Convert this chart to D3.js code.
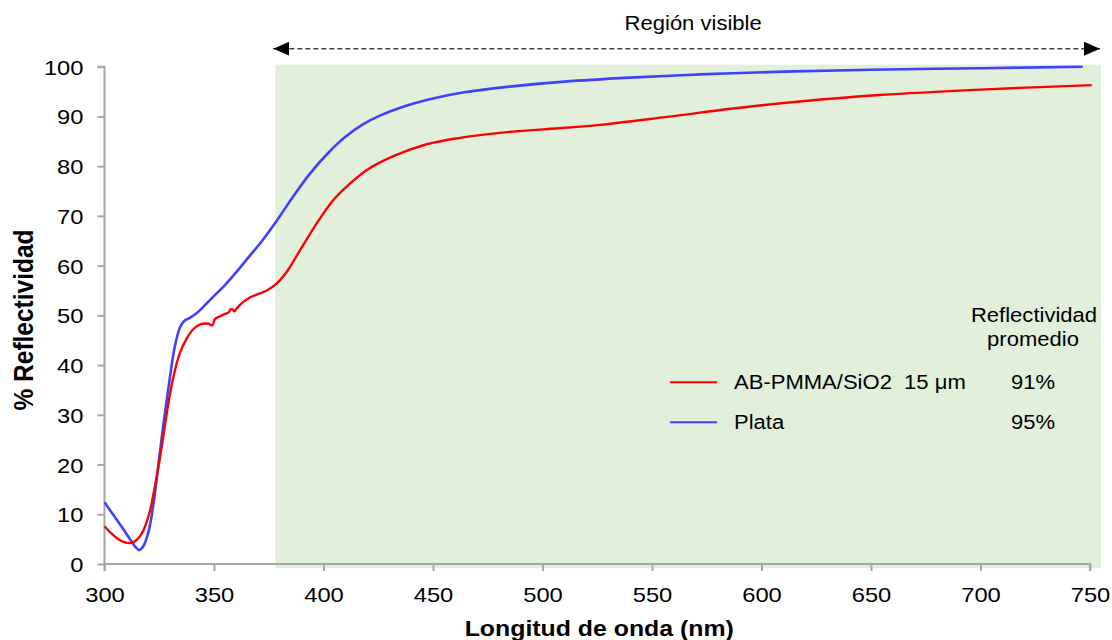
<!DOCTYPE html>
<html><head><meta charset="utf-8">
<script src="https://cdn.jsdelivr.net/npm/d3@7"></script>
<style>body{margin:0;background:#fff} text{font-family:"Liberation Sans",Arial,sans-serif;fill:#000;white-space:pre}</style>
</head><body><svg id="c" width="1112" height="640"></svg>
<script>
// ---- data ----
const redWavelength = [300,303,306,309,311.6,314,316.2,318,320.8,323.5,326.1,328.5,331.4,334.5,337.5,340.5,343.6,347.4,349.2,350.5,352.7,355,356.5,357.6,358.5,359.3,360.6,363.4,366.4,371,374.1,378.6,383,389.3,396.9,404.5,412.1,419.7,431.9,447.1,462.3,480.5,500,526.2,556.7,587.1,617.5,654,699.8,750.8];
const redReflectivity = [7.6,6.2,5.1,4.4,4.2,4.6,5.6,7.0,10.8,16.8,23.5,30.5,37.5,42.5,45.3,47.2,48.2,48.3,48.0,49.3,49.8,50.3,50.5,51.2,51.2,50.8,51.5,52.7,53.6,54.4,55.0,56.4,58.6,63.1,68.5,73.2,76.5,79.2,82.0,84.4,85.7,86.7,87.4,88.3,89.9,91.6,93.0,94.3,95.4,96.3];
const blueWavelength = [300,304,308,311.6,314,315.9,317.5,320,322.5,325.3,327.5,329.9,332,334.5,336.5,339,342,345.1,350,355,360,366,372,378,386,394,402,410,418,426,436,450,465,485,510,540,575,610,650,700,746.7];
const blueReflectivity = [12.4,9.9,7.4,5.0,3.5,2.8,3.4,6.3,12.5,22.5,30,37.6,43.5,47.6,48.9,49.5,50.4,51.7,53.9,56.1,58.6,61.8,65.0,68.6,73.8,78.6,82.6,85.9,88.4,90.2,91.9,93.6,94.9,96.0,97.0,97.8,98.5,99.0,99.4,99.7,100.0];
const xTicks = [300,350,400,450,500,550,600,650,700,750];
const yTicks = [0,10,20,30,40,50,60,70,80,90,100];
const visibleRange = [378, 755];
const seriesNames = ["AB-PMMA/SiO2  15 \u03BCm", "Plata"];
const averages = ["91%", "95%"];
const seriesColors = ["#ff0000", "#4040ff"];

// ---- chart ----
const SX = 1.13;
const svg = d3.select("#c");
const x = d3.scaleLinear().domain([300, 750]).range([104.5, 1090]);
const y = d3.scaleLinear().domain([0, 100]).range([564, 66.7]);

// visible region
svg.append("rect")
  .attr("x", x(visibleRange[0])).attr("y", y(100) - 2)
  .attr("width", x(visibleRange[1]) - x(visibleRange[0]))
  .attr("height", y(0) - y(100) + 6)
  .attr("fill", "#e2efda");

// arrow
const defs = svg.append("defs");
["s","e"].forEach(k => {
  defs.append("marker").attr("id", "m" + k)
    .attr("viewBox", "0 0 16 14").attr("refX", k === "e" ? 16 : 0).attr("refY", 7)
    .attr("markerWidth", 16).attr("markerHeight", 14).attr("markerUnits", "userSpaceOnUse")
    .attr("orient", "auto")
    .append("path").attr("d", k === "e" ? "M0,0L16,7L0,14Z" : "M16,0L0,7L16,14Z").attr("fill", "#000");
});
svg.append("line")
  .attr("x1", x(visibleRange[0]) - 2).attr("x2", x(visibleRange[1]) - 1)
  .attr("y1", 48.7).attr("y2", 48.7)
  .attr("stroke", "#404040").attr("stroke-width", 1.5).attr("stroke-dasharray", "5,3")
  .attr("marker-start", "url(#ms)").attr("marker-end", "url(#me)");

function stext(sel, tx, ty, str, size, anchor, weight) {
  return sel.append("text")
    .attr("transform", `translate(${tx},${ty}) scale(${SX},1)`)
    .attr("text-anchor", anchor || "start")
    .attr("font-size", size).attr("font-weight", weight || "normal")
    .text(str);
}
stext(svg, (x(visibleRange[0]) + x(visibleRange[1])) / 2 + 5, 30, "Región visible", 19.5, "middle");

// axes
const axisColor = "#a6a6a6";
const gx = svg.append("g").attr("transform", `translate(0,${y(0)})`)
  .call(d3.axisBottom(x).tickValues(xTicks).tickSize(7).tickPadding(0).tickFormat(d3.format("d")));
gx.select(".domain").attr("stroke", axisColor).attr("stroke-width", 2).attr("d", `M${x(300)},7V0H${x(750)}V7`);
gx.selectAll(".tick line").attr("stroke", axisColor).attr("stroke-width", 2);
gx.selectAll(".tick text").attr("y", 0).attr("dy", 0)
  .attr("transform", `translate(0,37.5) scale(${SX},1)`)
  .attr("font-size", 21).attr("font-family", "Liberation Sans, Arial, sans-serif").attr("fill", "#000");

const gy = svg.append("g").attr("transform", `translate(${x(300)},0)`)
  .call(d3.axisLeft(y).tickValues(yTicks).tickSize(7).tickPadding(0));
gy.select(".domain").attr("stroke", axisColor).attr("stroke-width", 2).attr("d", `M-7,${y(100)}H0V${y(0)}`);
gy.selectAll(".tick line").attr("stroke", axisColor).attr("stroke-width", 2);
gy.selectAll(".tick text").attr("x", 0).attr("dy", 0)
  .attr("transform", `translate(-21,7.5) scale(${SX},1)`)
  .attr("font-size", 21).attr("font-family", "Liberation Sans, Arial, sans-serif").attr("fill", "#000");

// axis titles
stext(svg, (x(300) + x(750)) / 2 + 2, 636, "Longitud de onda (nm)", 22, "middle", "bold");
svg.append("text")
  .attr("transform", `translate(33,320) rotate(-90) scale(1,${SX})`)
  .attr("text-anchor", "middle").attr("font-size", 24.5).attr("font-weight", "bold")
  .text("% Reflectividad");

// lines
const line = d3.line().x(d => x(d[0])).y(d => y(d[1])).curve(d3.curveCatmullRom.alpha(0.5));
const redData = d3.zip(redWavelength, redReflectivity);
const blueData = d3.zip(blueWavelength, blueReflectivity);
svg.append("path").datum(blueData).attr("d", line).attr("fill", "none")
  .attr("stroke", seriesColors[1]).attr("stroke-width", 2.6);
svg.append("path").datum(redData).attr("d", line).attr("fill", "none")
  .attr("stroke", seriesColors[0]).attr("stroke-width", 2.4);

// legend
const lg = svg.append("g");
stext(lg, 1034, 322, "Reflectividad", 19.5, "middle");
stext(lg, 1033, 346, "promedio", 19.5, "middle");
const rows = [382.3, 422.3];
seriesNames.forEach((n, i) => {
  lg.append("line").attr("x1", 670).attr("x2", 717).attr("y1", rows[i]).attr("y2", rows[i])
    .attr("stroke", seriesColors[i]).attr("stroke-width", 2);
  stext(lg, 734, rows[i] + 6.5, n, 19.5, "start");
  stext(lg, 1033, rows[i] + 6.5, averages[i], 19.5, "middle");
});
</script></body></html>
